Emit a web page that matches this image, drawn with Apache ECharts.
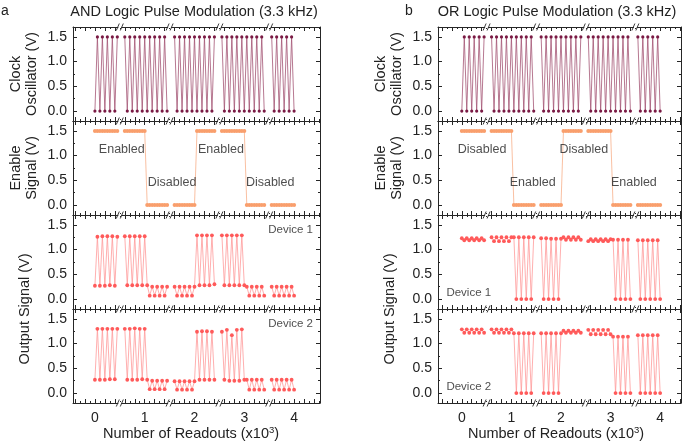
<!DOCTYPE html>
<html><head><meta charset="utf-8">
<script src="https://cdn.jsdelivr.net/npm/echarts@6/dist/echarts.min.js"></script>
<style>html,body{margin:0;padding:0;background:#fff}#c{width:685px;height:444px}</style>
</head><body><div id="c"></div>
<script>
// ---- sampling of the broken x axis (readouts, x10^3) ----
const segStart = [0.0, 0.6, 1.6, 2.55, 3.55];
const step = 0.05;
const xTickLabels = [0, 1, 2, 3, 4];
const yTickLabels = [0, 0.5, 1.0, 1.5];
const breaksAt = [0.5, 1.5, 2.5, 3.5];

// ---- values (V), one array per segment ----
const clock = [
  [0,1.5,0,1.5,0,1.5,0,1.5,0,1.5],
  [1.5,0,1.5,0,1.5,0,1.5,0,1.5,0,1.5,0,1.5,0,1.5,0,1.5,0],
  [1.5,0,1.5,0,1.5,0,1.5,0,1.5,0,1.5,0,1.5,0,1.5,0,1.5],
  [1.5,0,1.5,0,1.5,0,1.5,0,1.5,0,1.5,0,1.5,0,1.5,0,1.5,0],
  [1.5,0,1.5,0,1.5,0,1.5,0,1.5,0]
];
const enable = [
  [1.5,1.5,1.5,1.5,1.5,1.5,1.5,1.5,1.5,1.5],
  [1.5,1.5,1.5,1.5,1.5,1.5,1.5,1.5,1.5,0,0,0,0,0,0,0,0,0],
  [0,0,0,0,0,0,0,0,0,1.5,1.5,1.5,1.5,1.5,1.5,1.5,1.5],
  [1.5,1.5,1.5,1.5,1.5,1.5,1.5,1.5,1.5,1.5,0,0,0,0,0,0,0,0],
  [0,0,0,0,0,0,0,0,0,0]
];
const andDevice1 = [
  [0.27,1.26,0.27,1.27,0.27,1.27,0.28,1.27,0.27,1.26],
  [1.27,0.28,1.27,0.28,1.27,0.28,1.27,0.28,1.27,0.28,0.07,0.25,0.07,0.25,0.07,0.25,0.07,0.25],
  [0.25,0.07,0.25,0.07,0.25,0.07,0.25,0.07,0.25,1.29,0.28,1.29,0.28,1.29,0.28,1.29,0.30],
  [1.29,0.28,1.29,0.28,1.29,0.28,1.29,0.28,1.29,0.28,0.25,0.07,0.25,0.07,0.25,0.07,0.25,0.07],
  [0.25,0.07,0.25,0.07,0.25,0.07,0.25,0.07,0.25,0.07]
];
const andDevice2 = [
  [0.27,1.30,0.27,1.30,0.27,1.30,0.28,1.30,0.28,1.30],
  [1.30,0.27,1.30,0.27,1.31,0.27,1.30,0.28,1.30,0.27,0.08,0.25,0.08,0.25,0.08,0.25,0.08,0.25],
  [0.24,0.07,0.24,0.07,0.24,0.07,0.24,0.07,0.24,1.24,0.27,1.25,0.27,1.25,0.27,1.24,0.27],
  [1.24,0.27,1.28,0.25,1.17,0.25,1.28,0.25,1.29,0.27,0.27,0.07,0.27,0.07,0.27,0.07,0.27,0.07],
  [0.27,0.07,0.27,0.07,0.27,0.07,0.27,0.07,0.27,0.07]
];
const orDevice1 = [
  [1.23,1.19,1.23,1.19,1.23,1.19,1.23,1.19,1.23,1.19],
  [1.25,1.17,1.25,1.17,1.25,1.17,1.25,1.17,1.25,1.25,0.00,1.25,0.00,1.25,0.00,1.25,0.00,1.25],
  [1.23,0.00,1.23,0.00,1.22,0.00,1.22,0.00,1.22,1.25,1.20,1.25,1.20,1.25,1.20,1.25,1.20],
  [1.17,1.21,1.17,1.21,1.17,1.21,1.17,1.21,1.17,1.21,1.20,0.00,1.20,0.00,1.20,0.00,1.20,0.00],
  [1.19,0.00,1.19,0.00,1.19,0.00,1.19,0.00,1.19,0.00]
];
const orDevice2 = [
  [1.29,1.22,1.29,1.22,1.29,1.22,1.29,1.22,1.29,1.22],
  [1.29,1.22,1.29,1.22,1.29,1.22,1.29,1.22,1.29,1.21,0.00,1.21,0.00,1.21,0.00,1.21,0.00,1.21],
  [1.21,0.00,1.21,0.00,1.21,0.00,1.21,0.00,1.21,1.26,1.22,1.26,1.22,1.26,1.22,1.26,1.22],
  [1.28,1.19,1.28,1.19,1.28,1.19,1.28,1.19,1.28,1.19,1.14,0.00,1.14,0.00,1.14,0.00,1.14,0.00],
  [1.17,0.00,1.17,0.00,1.17,0.00,1.17,0.00,1.17,0.00]
];

// ---- text ----
const titles = ['AND Logic Pulse Modulation (3.3 kHz)', 'OR Logic Pulse Modulation (3.3 kHz)'];
const panelLetters = ['a', 'b'];
const yNames = ['Clock\nOscillator (V)', 'Enable\nSignal (V)', 'Output Signal (V)'];
const stateNotes = [
  [{t:'Enabled',x:0.54,y:1.13},{t:'Disabled',x:1.55,y:0.45},{t:'Enabled',x:2.53,y:1.13},{t:'Disabled',x:3.52,y:0.45}],
  [{t:'Disabled',x:0.41,y:1.13},{t:'Enabled',x:1.43,y:0.45},{t:'Disabled',x:2.46,y:1.13},{t:'Enabled',x:3.47,y:0.45}]
];
const deviceNotes = [
  [{t:'Device 1',x:3.93,y:1.4},{t:'Device 2',x:3.93,y:1.4}],
  [{t:'Device 1',x:0.14,y:0.13},{t:'Device 2',x:0.14,y:0.13}]
];

// ---- layout ----
const FONT = '"Liberation Sans", Arial, Helvetica, sans-serif';
const gridLeft = [73, 438], gridWidth = [247, 243];
const gridTop = [27, 121, 215, 309], gridH = 94;
const xRange = [[-0.44, 4.52], [-0.48, 4.42]];
const yMin = -0.2, yMax = 1.7;
const axisColor = '#262626';

const columns = [
  [clock, enable, andDevice1, andDevice2],
  [clock, enable, orDevice1, orDevice2]
];
const rowStyle = [
  {sym: '#7a1a44', line: '#a45675', size: 3.2},
  {sym: '#f99f6d', line: '#f7b08a', size: 4},
  {sym: '#ff5a5a', line: '#ff9a9a', size: 3.8},
  {sym: '#ff5a5a', line: '#ff9a9a', size: 3.8}
];

function build(segs) {
  const out = [];
  segs.forEach((seg, s) => {
    seg.forEach((y, i) => out.push([+(segStart[s] + i * step).toFixed(3), y]));
    out.push([+(segStart[s] + seg.length * step).toFixed(3), null]);
  });
  return out;
}

const majorX = [], minorX = [];
for (let i = -4; i <= 45; i++) { (i % 2 === 0 ? majorX : minorX).push(i / 10); }
const majorY = [0, 0.5, 1.0, 1.5], minorY = [-0.25, 0.25, 0.75, 1.25];

const grids = [], xAxes = [], yAxes = [], series = [];
const mainX = [], mainY = [];
for (let c = 0; c < 2; c++) {
  for (let r = 0; r < 4; r++) {
    const g = grids.length;
    grids.push({left: gridLeft[c], top: gridTop[r], width: gridWidth[c], height: gridH, containLabel: false});
    const inR = v => v.filter(t => t >= xRange[c][0] && t <= xRange[c][1]);
    const baseX = {gridIndex: g, type: 'value', min: xRange[c][0], max: xRange[c][1], splitLine: {show: false}, axisPointer: {show: false}};
    const baseY = {gridIndex: g, type: 'value', min: yMin, max: yMax, splitLine: {show: false}};
    ['bottom', 'top'].forEach(pos => {
      const isMain = pos === 'bottom';
      if (isMain) mainX.push(xAxes.length);
      xAxes.push(Object.assign({}, baseX, {
        position: pos,
        axisLine: {show: true, onZero: false, lineStyle: {color: axisColor, width: 1}},
        axisTick: {show: true, inside: true, length: 4, customValues: inR(majorX), lineStyle: {color: axisColor, width: 1}},
        axisLabel: {show: isMain && r === 3, customValues: xTickLabels, fontSize: 14, color: '#222', fontFamily: FONT, margin: 8}
      }));
      xAxes.push(Object.assign({}, baseX, {
        position: pos,
        axisLine: {show: false, onZero: false},
        axisTick: {show: true, inside: true, length: 2, customValues: inR(minorX), lineStyle: {color: axisColor, width: 1}},
        axisLabel: {show: false}
      }));
    });
    ['left', 'right'].forEach(pos => {
      const isMain = pos === 'left';
      if (isMain) mainY.push(yAxes.length);
      yAxes.push(Object.assign({}, baseY, {
        position: pos,
        axisLine: {show: true, onZero: false, lineStyle: {color: axisColor, width: 1}},
        axisTick: {show: true, inside: true, length: 4, customValues: majorY, lineStyle: {color: axisColor, width: 1}},
        axisLabel: {show: isMain, customValues: yTickLabels, formatter: v => v.toFixed(1), fontSize: 14, color: '#222', fontFamily: FONT, margin: 6}
      }));
      yAxes.push(Object.assign({}, baseY, {
        position: pos,
        axisLine: {show: false, onZero: false},
        axisTick: {show: true, inside: true, length: 2, customValues: minorY.filter(v => v > yMin), lineStyle: {color: axisColor, width: 1}},
        axisLabel: {show: false}
      }));
    });
    const st = rowStyle[r];
    series.push({
      type: 'line', xAxisIndex: mainX[g], yAxisIndex: mainY[g],
      data: build(columns[c][r]), connectNulls: false,
      symbol: 'circle', symbolSize: st.size, showSymbol: true,
      itemStyle: {color: st.sym}, lineStyle: {color: st.line, width: 0.8},
      silent: true, animation: false, z: 3
    });
    let notes = null;
    if (r === 1) notes = stateNotes[c];
    if (r >= 2) notes = [deviceNotes[c][r - 2]];
    if (notes) {
      series.push({
        type: 'scatter', xAxisIndex: mainX[g], yAxisIndex: mainY[g], silent: true, animation: false,
        symbolSize: 1, itemStyle: {color: 'rgba(0,0,0,0)'},
        data: notes.map(n => ({value: [n.x, n.y], name: n.t})),
        label: {show: true, position: 'inside', formatter: '{b}', color: '#222', fontSize: r === 1 ? 12.5 : 11.5, fontFamily: FONT},
        z: 5
      });
    }
  }
}

const chart = echarts.init(document.getElementById('c'));
chart.setOption({
  animation: false,
  backgroundColor: '#fff',
  grid: grids, xAxis: xAxes, yAxis: yAxes, series: series
});

// ---- static texts + axis break marks ----
const gfx = [];
const txt = (text, x, y, size, rot, extra) => gfx.push(Object.assign({
  type: 'text', x: x, y: y, rotation: rot || 0, z: 10,
  style: Object.assign({text: text, font: size + 'px ' + FONT, fill: '#222', align: 'center', verticalAlign: 'middle', lineHeight: size + 2}, extra || {})
}));
const titleCX = [194, 557], nameCX = [24, 389], xNameCX = [191, 556], letterX = [5, 409];
for (let c = 0; c < 2; c++) {
  txt(titles[c], titleCX[c], 12, 14.5);
  txt(panelLetters[c], letterX[c], 11, 14);
  txt(yNames[0], nameCX[c], gridTop[0] + gridH / 2, 14.5, Math.PI / 2);
  txt(yNames[1], nameCX[c], gridTop[1] + gridH / 2, 14.5, Math.PI / 2);
  txt(yNames[2], nameCX[c] + 1, gridTop[3], 14.5, Math.PI / 2);
  gfx.push({
    type: 'text', x: xNameCX[c], y: 434, z: 10,
    style: {text: '{a|Number of Readouts (x10}{sup|3}{a|)}', align: 'center', verticalAlign: 'middle',
      rich: {a: {font: '14.5px ' + FONT, fill: '#222'}, sup: {font: '9.5px ' + FONT, fill: '#222', padding: [0, 0, 8, 0]}}}
  });
  const ys = [gridTop[0], gridTop[1], gridTop[2], gridTop[3], gridTop[3] + gridH];
  breaksAt.forEach(b => {
    const px = chart.convertToPixel({xAxisIndex: mainX[c * 4]}, b);
    ys.forEach(y => {
      gfx.push({type: 'rect', shape: {x: px - 1.5, y: y - 1, width: 3, height: 2}, style: {fill: '#fff'}, z: 20, silent: true});
      gfx.push({type: 'line', shape: {x1: px - 3.5, y1: y + 3.5, x2: px - 0.5, y2: y - 3.5}, style: {stroke: axisColor, lineWidth: 0.9}, z: 21, silent: true});
      gfx.push({type: 'line', shape: {x1: px + 0.5, y1: y + 3.5, x2: px + 3.5, y2: y - 3.5}, style: {stroke: axisColor, lineWidth: 0.9}, z: 21, silent: true});
    });
  });
}
chart.setOption({graphic: {elements: gfx}});
</script>
</body></html>
